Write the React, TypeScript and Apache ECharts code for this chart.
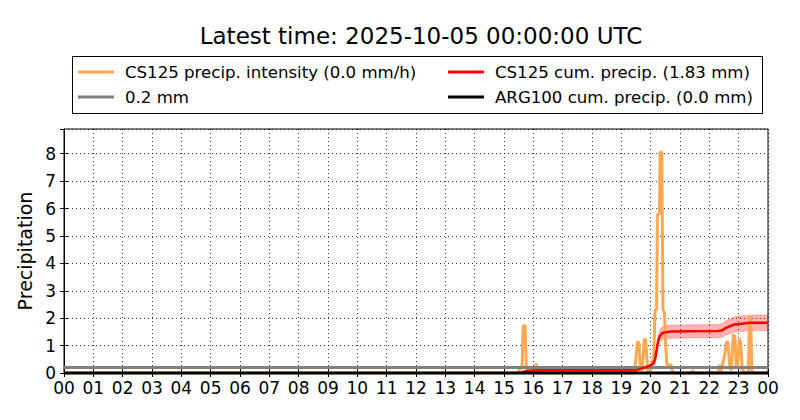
import React, { useEffect, useRef } from "react";
import * as echarts from "echarts";

const titleText = "Latest time: 2025-10-05 00:00:00 UTC";
const legendLeft = ["CS125 precip. intensity (0.0 mm/h)", "0.2 mm"];
const legendRight = ["CS125 cum. precip. (1.83 mm)", "ARG100 cum. precip. (0.0 mm)"];
const xTickLabels = ["00","01","02","03","04","05","06","07","08","09","10","11","12","13","14","15","16","17","18","19","20","21","22","23","00"];

// intensity (hours, mm/h)
const intensityHours = [0, 15.45, 15.55, 15.62, 15.65, 15.72, 15.76, 15.82, 15.9, 16.05, 16.1, 16.15, 19.45, 19.55, 19.6, 19.65, 19.72, 19.78, 19.83, 19.9, 19.98, 20.05, 20.1, 20.15, 20.2, 20.23, 20.3, 20.32, 20.38, 20.42, 20.47, 20.5, 20.55, 20.62, 20.7, 20.75, 21.4, 21.43, 21.47, 22.05, 22.08, 22.12, 22.3, 22.35, 22.4, 22.47, 22.52, 22.58, 22.63, 22.7, 22.75, 22.82, 22.87, 22.92, 22.97, 23.02, 23.07, 23.12, 23.2, 23.33, 23.37, 23.41, 23.45, 24];
const intensityValues = [0, 0, 0.15, 0.3, 1.7, 1.75, 0.2, 0.1, 0, 0, 0.35, 0, 0, 1.15, 1.1, 0.1, 0.15, 1.25, 1.2, 0.1, 0.05, 0.4, 0.5, 2.3, 2.3, 5.8, 5.8, 8.05, 8.05, 2.3, 2.2, 1.3, 0.3, 0.3, 0.3, 0, 0, 0.1, 0, 0, 0.05, 0, 0, 0.3, 0.05, 0.4, 0.65, 1.1, 1.15, 0.2, 0.1, 1.4, 1.35, 0.2, 0.3, 1.25, 1.1, 0.15, 0, 0, 2.05, 2.05, 0, 0];

// cumulative precip (hours, mm) with uncertainty band
const cumHours = [15.5, 15.6, 15.7, 15.8, 16.1, 19.5, 19.6, 19.8, 20.0, 20.1, 20.15, 20.2, 20.25, 20.3, 20.38, 20.5, 20.7, 22.3, 22.45, 22.55, 22.7, 22.85, 23.1, 23.4, 24];
const cumValues = [0, 0.02, 0.06, 0.08, 0.1, 0.1, 0.13, 0.2, 0.28, 0.35, 0.5, 0.8, 1.15, 1.32, 1.44, 1.49, 1.51, 1.53, 1.56, 1.64, 1.7, 1.77, 1.8, 1.83, 1.83];
const cumLow = [0, 0.02, 0.05, 0.07, 0.08, 0.08, 0.11, 0.17, 0.24, 0.29, 0.42, 0.67, 0.97, 1.11, 1.21, 1.25, 1.27, 1.29, 1.31, 1.38, 1.43, 1.49, 1.51, 1.54, 1.54];
const cumHigh = [0, 0.02, 0.07, 0.09, 0.12, 0.12, 0.15, 0.23, 0.32, 0.41, 0.58, 0.93, 1.33, 1.53, 1.67, 1.73, 1.75, 1.77, 1.81, 1.9, 1.97, 2.05, 2.09, 2.12, 2.12];

const thresholdHours = [0, 24];
const thresholdValues = [0.2, 0.2];
const argHours = [0, 24];
const argValues = [0, 0];

const FONT = "DejaVu Sans";

export default function App() {
  const ref = useRef<HTMLDivElement>(null);
  useEffect(() => {
    if (!ref.current) return;
    const chart = echarts.init(ref.current, null, { renderer: "svg" });
    const zip = (xs: number[], ys: number[]) => xs.map((x, i) => [x, ys[i]]);
    const dotted = { color: "#000", width: 0.8, type: [1, 3] as any };
    const tick = { show: true, inside: true, length: 4, lineStyle: { color: "#000" } };
    const legendText = { fontFamily: FONT, fontSize: 16.6, color: "#000", lineHeight: 18, padding: [0, 0, 0, 6] };
    chart.setOption({
      animation: false,
      backgroundColor: "#fff",
      textStyle: { fontFamily: FONT },
      title: {
        text: titleText,
        left: 416,
        textAlign: "center",
        top: 19,
        textStyle: { fontFamily: FONT, fontSize: 23, fontWeight: "normal", color: "#000" },
      },
      graphic: [
        {
          type: "rect",
          shape: { x: 72.5, y: 56.5, width: 690, height: 57 },
          style: { fill: "#fff", stroke: "#000", lineWidth: 1 },
          z: -1,
        },
      ],
      legend: [
        {
          data: legendLeft,
          orient: "vertical",
          left: 78,
          top: 63,
          padding: 0,
          itemGap: 7,
          itemWidth: 36,
          itemHeight: 3,
          icon: "rect",
          selectedMode: false,
          textStyle: legendText,
        },
        {
          data: legendRight,
          orient: "vertical",
          left: 448,
          top: 63,
          padding: 0,
          itemGap: 7,
          itemWidth: 36,
          itemHeight: 3,
          icon: "rect",
          selectedMode: false,
          textStyle: legendText,
        },
      ],
      grid: {
        left: 64,
        right: 32,
        top: 129,
        bottom: 47,
        show: true,
        borderColor: "#000",
        borderWidth: 1,
        backgroundColor: "transparent",
      },
      xAxis: [
        {
          type: "value",
          min: 0,
          max: 24,
          interval: 1,
          axisLine: { show: true, lineStyle: { color: "#000" } },
          axisTick: tick,
          axisLabel: {
            fontFamily: FONT,
            fontSize: 17,
            lineHeight: 14,
            color: "#000",
            margin: 8,
            formatter: (v: number) => xTickLabels[Math.round(v)] ?? "",
          },
          splitLine: { show: true, lineStyle: dotted },
        },
        {
          type: "value",
          position: "top",
          min: 0,
          max: 24,
          interval: 1,
          axisLine: { show: false },
          axisTick: tick,
          axisLabel: { show: false },
          splitLine: { show: false },
        },
      ],
      yAxis: [
        {
          type: "value",
          min: 0,
          max: 8.9,
          interval: 1,
          name: "Precipitation",
          nameLocation: "middle",
          nameGap: 24,
          nameTextStyle: { fontFamily: FONT, fontSize: 19, color: "#000" },
          axisLine: { show: true, lineStyle: { color: "#000" } },
          axisTick: tick,
          axisLabel: {
            fontFamily: FONT,
            fontSize: 17,
            lineHeight: 14,
            color: "#000",
            margin: 8,
            showMaxLabel: false,
            formatter: (v: number) => (Number.isInteger(v) ? String(v) : ""),
          },
          splitLine: { show: true, lineStyle: dotted },
        },
        {
          type: "value",
          position: "right",
          min: 0,
          max: 8.9,
          interval: 1,
          axisLine: { show: false },
          axisTick: tick,
          axisLabel: { show: false },
          splitLine: { show: false },
        },
      ],
      series: [
        {
          name: "band",
          type: "custom",
          data: [0],
          z: 2,
          silent: true,
          renderItem: (params: any, api: any) => {
            const pts: number[][] = [];
            for (let i = 0; i < cumHours.length; i++) pts.push(api.coord([cumHours[i], cumHigh[i]]));
            for (let i = cumHours.length - 1; i >= 0; i--) pts.push(api.coord([cumHours[i], cumLow[i]]));
            return {
              type: "polygon",
              shape: { points: pts },
              style: { fill: "rgba(255,0,0,0.3)", stroke: "rgba(255,0,0,0.2)", lineWidth: 1 },
            };
          },
        },
        {
          name: legendLeft[0],
          type: "line",
          data: zip(intensityHours, intensityValues),
          symbol: "none",
          color: "#ffa850",
          lineStyle: { color: "#ffa850", width: 3 },
          z: 3,
        },
        {
          name: legendLeft[1],
          type: "line",
          data: zip(thresholdHours, thresholdValues),
          symbol: "none",
          color: "#808080",
          lineStyle: { color: "#808080", width: 3 },
          z: 4,
        },
        {
          name: legendRight[0],
          type: "line",
          data: zip(cumHours, cumValues),
          symbol: "none",
          color: "#ff0000",
          lineStyle: { color: "#ff0000", width: 2.5 },
          z: 5,
        },
        {
          name: legendRight[1],
          type: "line",
          data: zip(argHours, argValues),
          symbol: "none",
          color: "#000",
          lineStyle: { color: "#000", width: 3 },
          clip: false,
          z: 6,
        },
      ],
    });
    return () => chart.dispose();
  }, []);
  return <div ref={ref} style={{ width: 800, height: 420, position: "absolute", left: 0, top: 0 }} />;
}
